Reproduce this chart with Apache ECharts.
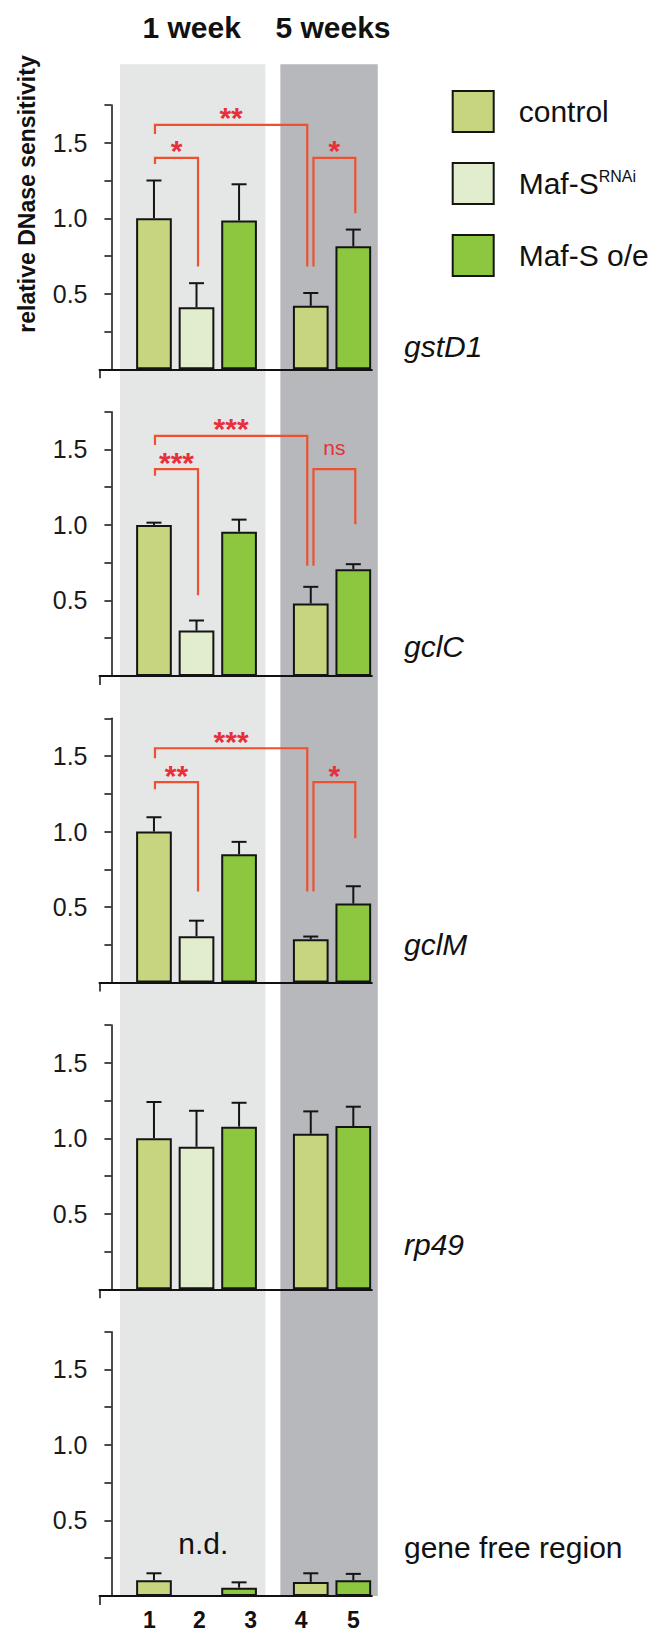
<!DOCTYPE html>
<html>
<head>
<meta charset="utf-8">
<script src="https://cdn.jsdelivr.net/npm/echarts@6/dist/echarts.min.js"></script>
<style>
html,body{margin:0;padding:0;background:#ffffff;}
#chart{width:654px;height:1635px;}
</style>
</head>
<body>
<div id="chart"></div>
<script>
// ---------------- DATA ----------------
const barLabels = ['1', '2', '3', '4', '5'];
const genotypes = ['control', 'Maf-S RNAi', 'Maf-S o/e'];
const barGenotype = [0, 1, 2, 0, 2];
const ageGroups = ['1 week', '5 weeks'];
const genes = ['gstD1', 'gclC', 'gclM', 'rp49', 'gene free region'];
const geneItalic = [true, true, true, true, false];

const gstD1    = [1.00, 0.41, 0.985, 0.42, 0.815];
const gstD1Err = [1.25, 0.57, 1.225, 0.505, 0.925];
const gclC     = [1.00, 0.30, 0.955, 0.48, 0.707];
const gclCErr  = [1.015, 0.367, 1.035, 0.59, 0.74];
const gclM     = [1.00, 0.307, 0.85, 0.287, 0.523];
const gclMErr  = [1.095, 0.41, 0.932, 0.305, 0.638];
const rp49     = [1.00, 0.944, 1.077, 1.03, 1.081];
const rp49Err  = [1.24, 1.182, 1.235, 1.178, 1.209];
const geneFree    = [0.104, null, 0.055, 0.093, 0.104];
const geneFreeErr = [0.15, null, 0.09, 0.15, 0.146];
const notDetected = 'n.d.';

const yTickLabels = [0.5, 1.0, 1.5];

// significance brackets: from bar, to bar, left-leg bottom, bracket height, right-leg bottom
const sigGstD1 = [
  {from: 0, to: 3, start: 1.558, top: 1.618, end: 0.68, label: '**'},
  {from: 0, to: 1, start: 1.36, top: 1.40, end: 0.68, label: '*'},
  {from: 3, to: 4, start: 0.68, top: 1.40, end: 1.033, label: '*'}
];
const sigGclC = [
  {from: 0, to: 3, start: 1.53, top: 1.59, end: 0.73, label: '***'},
  {from: 0, to: 1, start: 1.325, top: 1.369, end: 0.534, label: '***'},
  {from: 3, to: 4, start: 0.73, top: 1.369, end: 1.005, label: 'ns'}
];
const sigGclM = [
  {from: 0, to: 3, start: 1.486, top: 1.552, end: 0.603, label: '***'},
  {from: 0, to: 1, start: 1.281, top: 1.327, end: 0.603, label: '**'},
  {from: 3, to: 4, start: 0.603, top: 1.327, end: 0.956, label: '*'}
];

const panelValues = [gstD1, gclC, gclM, rp49, geneFree];
const panelErrors = [gstD1Err, gclCErr, gclMErr, rp49Err, geneFreeErr];
const panelSig = [sigGstD1, sigGclC, sigGclM, [], []];

// ---------------- LAYOUT ----------------
const xPos = [1, 2, 3, 4.685, 5.685];           // bar positions on the x scale
const xLabelPos = [0.892, 2.067, 3.275, 4.457, 5.686];
const X_MIN = -0.28, X_MAX = 6.12, X_MAX_BG = 6.4, PX_PER_X = 42.55;
const GRID_LEFT = 99.5;
const PANEL_TOP0 = 105, PANEL_H = 264.25, PANEL_PITCH = 306.67;
const Y_MAX = 1.75;
const bands = [[0.203, 3.618, '#e5e6e6'], [3.97, 6.26, '#b7b8bb']];
const BAND_TOP = 64.3;
const geneBaselineAbove = [12.8, 19.4, 27.6, 34.3, 37.9];
const ndPos = [2.16, 0.35];
const legOffsets = {'0-3': [1, -3.5], '0-1': [1, 1.5], '3-4': [2.7, 2]};
const colors = ['#c7d67e', '#e1edcc', '#8dc63f'];
const FONT = '"Liberation Sans", Arial, Helvetica, sans-serif';
const RED_LINE = '#ee5030', RED_TEXT = '#e8303a';

const panelZero = i => PANEL_TOP0 + PANEL_H + PANEL_PITCH * i;

// ---------------- OPTION ----------------
const grids = [], xAxes = [], yAxes = [], series = [];
const nP = genes.length;
for (let i = 0; i < nP; i++) {
  grids.push({left: GRID_LEFT, top: PANEL_TOP0 + PANEL_PITCH * i,
    width: (X_MAX - X_MIN) * PX_PER_X, height: PANEL_H,
    containLabel: false, outerBoundsMode: 'none'});
  const last = i === nP - 1;
  xAxes.push({
    type: 'value', gridIndex: i, min: X_MIN, max: X_MAX,
    axisLine: {show: true, onZero: false, lineStyle: {color: '#111', width: 2}},
    axisTick: {show: true, length: 9, customValues: [X_MIN], lineStyle: {color: '#111', width: 1.5}},
    splitLine: {show: false},
    axisLabel: last ? {
      show: true, customValues: xLabelPos, margin: 13,
      fontFamily: FONT, fontSize: 23, fontWeight: 'bold', color: '#111', lineHeight: 22,
      formatter: function (v) {
        let best = 0;
        xLabelPos.forEach((p, k) => { if (Math.abs(p - v) < Math.abs(xLabelPos[best] - v)) best = k; });
        return barLabels[best];
      }
    } : {show: false}
  });
  yAxes.push({
    type: 'value', gridIndex: i, min: 0, max: Y_MAX, interval: 0.25,
    axisLine: {show: true, lineStyle: {color: '#111', width: 1.5}},
    axisTick: {show: true, length: 7, lineStyle: {color: '#111', width: 1.5}},
    splitLine: {show: false},
    axisLabel: {
      show: true, margin: 12, fontFamily: FONT, fontSize: 25, color: '#1a1a1a',
      formatter: function (v) {
        return yTickLabels.some(t => Math.abs(t - v) < 1e-6) ? v.toFixed(1) : '';
      }
    }
  });
  // bars: one series per genotype
  genotypes.forEach((g, gi) => {
    const data = [];
    panelValues[i].forEach((v, j) => {
      if (barGenotype[j] === gi && v != null) data.push([xPos[j], v]);
    });
    series.push({
      type: 'bar', name: g, xAxisIndex: i, yAxisIndex: i, data: data,
      barWidth: 35.7, barGap: '-100%', z: 3, silent: true,
      itemStyle: {color: colors[gi], borderColor: '#141414', borderWidth: 2}
    });
  });
  // error bars
  const errData = [];
  panelValues[i].forEach((v, j) => {
    if (v != null) errData.push([xPos[j], v, panelErrors[i][j]]);
  });
  series.push({
    type: 'custom', xAxisIndex: i, yAxisIndex: i, z: 2, silent: true,
    encode: {x: 0, y: [1, 2]},
    data: errData,
    renderItem: function (params, api) {
      const x = api.value(0), v = api.value(1), e = api.value(2);
      const p0 = api.coord([x, v]), p1 = api.coord([x, e]);
      const cap = 7.5;
      return {type: 'group', children: [
        {type: 'line', shape: {x1: p0[0], y1: p0[1], x2: p1[0], y2: p1[1]}, style: {stroke: '#141414', lineWidth: 2}},
        {type: 'line', shape: {x1: p1[0] - cap, y1: p1[1], x2: p1[0] + cap, y2: p1[1]}, style: {stroke: '#141414', lineWidth: 2}}
      ]};
    }
  });
  // significance brackets
  const sig = panelSig[i];
  if (sig.length) {
    series.push({
      type: 'custom', xAxisIndex: i, yAxisIndex: i, z: 6, silent: true,
      encode: {x: [0, 1], y: [2, 3, 4]},
      data: sig.map(b => [xPos[b.from], xPos[b.to], b.start, b.top, b.end]),
      renderItem: function (params, api) {
        const b = sig[params.dataIndex];
        const off = legOffsets[b.from + '-' + b.to];
        const x0 = api.value(0), x1 = api.value(1);
        const a = api.coord([x0, api.value(2)]);
        const t = api.coord([x0, api.value(3)]);
        const c = api.coord([x1, api.value(4)]);
        const lx = a[0] + off[0], rx = c[0] + off[1];
        const isNs = b.label === 'ns';
        return {type: 'group', children: [
          {type: 'polyline', shape: {points: [[lx, a[1]], [lx, t[1]], [rx, t[1]], [rx, c[1]]]},
           style: {stroke: RED_LINE, lineWidth: 2.2, fill: null}},
          {type: 'text', x: (lx + rx) / 2, y: t[1] - (isNs ? 22 : 7),
           style: {text: b.label, fill: RED_TEXT, align: 'center', verticalAlign: 'middle',
                   fontFamily: FONT, fontSize: isNs ? 21 : 30, fontWeight: isNs ? 'normal' : 'bold'}}
        ]};
      }
    });
  }
}
// n.d. annotation in gene free panel
series.push({
  type: 'custom', xAxisIndex: nP - 1, yAxisIndex: nP - 1, z: 6, silent: true,
  data: [ndPos],
  renderItem: function (params, api) {
    const p = api.coord([api.value(0), api.value(1)]);
    return {type: 'text', x: p[0], y: p[1],
      style: {text: notDetected, fill: '#111', align: 'center', verticalAlign: 'middle',
              fontFamily: FONT, fontSize: 30}};
  }
});
// background bands (hidden grid spanning all panels)
grids.push({left: GRID_LEFT, top: BAND_TOP, width: (X_MAX_BG - X_MIN) * PX_PER_X,
  height: panelZero(nP - 1) - BAND_TOP, containLabel: false, outerBoundsMode: 'none'});
xAxes.push({type: 'value', gridIndex: nP, min: X_MIN, max: X_MAX_BG, show: false});
yAxes.push({type: 'value', gridIndex: nP, min: 0, max: 1, show: false});
series.push({
  type: 'custom', xAxisIndex: nP, yAxisIndex: nP, z: -10, silent: true,
  encode: {x: [0, 1]},
  data: bands.map(b => [b[0], b[1]]),
  renderItem: function (params, api) {
    const p0 = api.coord([api.value(0), 1]);
    const p1 = api.coord([api.value(1), 0]);
    return {type: 'rect', shape: {x: p0[0], y: p0[1], width: p1[0] - p0[0], height: p1[1] - p0[1]},
      style: {fill: bands[params.dataIndex][2]}};
  }
});

// text annotations
const graphics = [];
graphics.push({type: 'text', x: 191.7, y: 27.8, style: {text: ageGroups[0], align: 'center', verticalAlign: 'middle',
  fontFamily: FONT, fontSize: 30, fontWeight: 'bold', fill: '#111'}});
graphics.push({type: 'text', x: 333, y: 27.8, style: {text: ageGroups[1], align: 'center', verticalAlign: 'middle',
  fontFamily: FONT, fontSize: 30, fontWeight: 'bold', fill: '#111'}});
graphics.push({type: 'text', x: 27, y: 194, rotation: Math.PI / 2,
  style: {text: 'relative DNase sensitivity', align: 'center', verticalAlign: 'middle',
  fontFamily: FONT, fontSize: 23, fontWeight: 'bold', fill: '#111'}});
genes.forEach((g, i) => {
  graphics.push({type: 'text', x: 404, y: panelZero(i) - geneBaselineAbove[i] - 10.4,
    style: {text: g, align: 'left', verticalAlign: 'middle', fontFamily: FONT, fontSize: 30,
      fontStyle: geneItalic[i] ? 'italic' : 'normal', fill: '#111'}});
});

const option = {
  backgroundColor: '#ffffff',
  animation: false,
  grid: grids, xAxis: xAxes, yAxis: yAxes, series: series,
  graphic: graphics,
  legend: {
    data: genotypes, orient: 'vertical', left: 446.7, top: 85,
    itemWidth: 41, itemHeight: 41, itemGap: 29, icon: 'rect', selectedMode: false,
    itemStyle: {borderColor: '#141414', borderWidth: 2},
    textStyle: {fontFamily: FONT, fontSize: 30, color: '#111', padding: [0, 0, 0, 20],
      rich: {a: {fontFamily: FONT, fontSize: 30, color: '#111'},
             s: {fontFamily: FONT, fontSize: 16, color: '#111', verticalAlign: 'top', padding: [0, 0, 0, 0]}}},
    formatter: function (n) { return n === 'Maf-S RNAi' ? '{a|Maf-S}{s|RNAi}' : n; }
  }
};

const chart = echarts.init(document.getElementById('chart'), null, {renderer: 'svg'});
chart.setOption(option);
</script>
</body>
</html>
